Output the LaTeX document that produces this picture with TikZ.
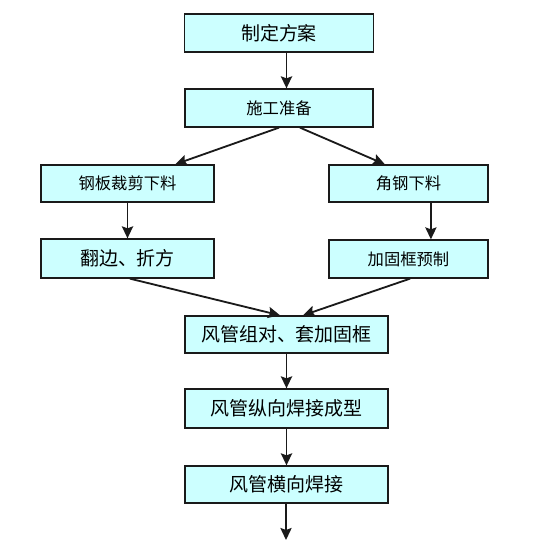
\documentclass[tikz,border=0pt]{standalone}
\usepackage{fontspec}
\usepackage{tikz}
\usetikzlibrary{arrows.meta,positioning,calc}
\newfontfamily\cjk{Noto Sans CJK SC}
\definecolor{ductcyan}{HTML}{CCFFFF}
\definecolor{ductink}{HTML}{1A1A1A}
\tikzset{
  stepbox/.style={draw=ductink, fill=ductcyan, line width=0.9pt, align=center, inner sep=2pt},
  big/.style={stepbox, font=\cjk\fontsize{13.5}{16}\selectfont},
  sml/.style={stepbox, font=\cjk\fontsize{11.6}{14}\selectfont},
  arr/.style={-{Stealth[length=3mm,width=2.8mm,inset=0.5mm]}, line width=1.3pt, color=ductink},
}

\begin{document}
\begin{tikzpicture}[x=0.025cm, y=-0.025cm]
    \useasboundingbox (0,0) rectangle (540,552);
    % main trunk
    \node[big, minimum width=4.725cm, minimum height=0.95cm] (plan) at (279,33) {制定方案};
    \node[sml, minimum width=4.7cm, minimum height=0.95cm] (prep) at (279,108) {施工准备};
    % two branches
    \node[sml, minimum width=4.325cm, minimum height=0.925cm] (cut) at (127.5,183.5) {钢板裁剪下料};
    \node[big, minimum width=4.325cm, minimum height=0.975cm] (fold) at (127.5,258.5) {翻边、折方};
    \node[sml, minimum width=3.975cm, minimum height=0.925cm] (angle) at (408.5,183.5) {角钢下料};
    \node[sml, minimum width=3.975cm, minimum height=0.95cm] (frame) at (408.5,259) {加固框预制};
    % assembly and welding
    \node[big, minimum width=5.075cm, minimum height=0.925cm] (assm) at (286.5,334.5) {风管组对、套加固框};
    \node[big, minimum width=5.075cm, minimum height=0.975cm] (seam) at (286.5,408.5) {风管纵向焊接成型};
    \node[big, minimum width=5.075cm, minimum height=0.925cm] (girth) at (286.5,484.5) {风管横向焊接};
    \coordinate (next) at (286,540);

    \draw[arr] (plan.south -| assm) -- (prep.north -| assm);
    \draw[arr] (prep.south) -- ([xshift=1.19cm]cut.north);
    \draw[arr] ([xshift=0.525cm]prep.south) -- ([xshift=-0.59cm]angle.north);
    \draw[arr] (cut) -- (fold);
    \draw[arr] ([xshift=0.56cm]angle.south) -- ([xshift=0.56cm]frame.north);
    \draw[arr] ([xshift=0.06cm]fold.south) -- ([xshift=-0.16cm]assm.north);
    \draw[arr] ([xshift=0.04cm]frame.south) -- ([xshift=0.41cm]assm.north);
    \foreach \a/\b in {assm/seam,seam/girth} \draw[arr] (\a) -- (\b);
    \draw[arr] (girth.south -| next) -- (next);
  \end{tikzpicture}
\end{document}
